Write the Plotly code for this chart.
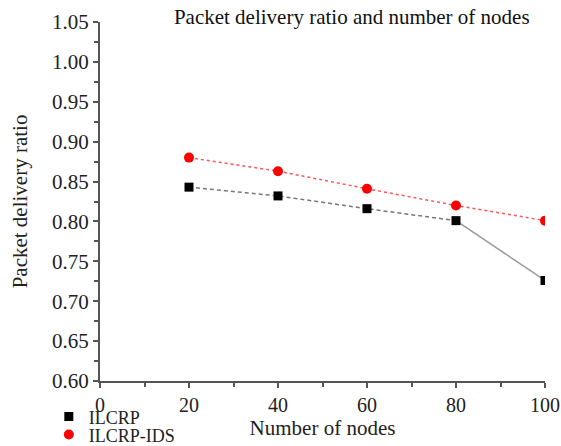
import plotly.graph_objects as go

nodes = [20, 40, 60, 80, 100]
ilcrp = [0.843, 0.832, 0.816, 0.801, 0.726]
ilcrp_ids = [0.880, 0.863, 0.841, 0.820, 0.801]
y_ticks = [0.60, 0.65, 0.70, 0.75, 0.80, 0.85, 0.90, 0.95, 1.00, 1.05]
x_ticks = [0, 20, 40, 60, 80, 100]

font = "Liberation Serif, Times New Roman, serif"

fig = go.Figure()
# ILCRP dashed segment (20-80) and solid segment (80-100)
fig.add_trace(go.Scatter(x=nodes[:4], y=ilcrp[:4], mode="lines",
                         line=dict(color="#777777", width=1.5, dash="4px,3px"),
                         showlegend=False, hoverinfo="skip"))
fig.add_trace(go.Scatter(x=nodes[3:], y=ilcrp[3:], mode="lines",
                         line=dict(color="#999999", width=1.5),
                         showlegend=False, hoverinfo="skip"))
fig.add_trace(go.Scatter(x=nodes, y=ilcrp_ids, mode="lines",
                         line=dict(color="#ff5555", width=1.5, dash="dot"),
                         showlegend=False, hoverinfo="skip"))
fig.add_trace(go.Scatter(x=nodes, y=ilcrp, mode="markers", name="ILCRP",
                         legend="legend",
                         marker=dict(symbol="square", color="black", size=9)))
fig.add_trace(go.Scatter(x=nodes, y=ilcrp_ids, mode="markers", name="ILCRP-IDS",
                         legend="legend2",
                         marker=dict(symbol="circle", color="red", size=10)))

leg_common = dict(xanchor="left", yanchor="middle", bgcolor="rgba(0,0,0,0)",
                  font=dict(family=font, size=18), itemwidth=30)

fig.update_layout(
    width=561, height=446,
    margin=dict(l=100, r=16, t=22, b=65, autoexpand=False),
    paper_bgcolor="white", plot_bgcolor="white",
    font=dict(family=font, size=21, color="#222222"),
    title=dict(text="Packet delivery ratio and number of nodes",
               x=0.627, xanchor="center", y=0.962, yanchor="middle",
               font=dict(family=font, size=21, color="#111111")),
    xaxis=dict(range=[0, 100], tickvals=x_ticks, showgrid=False, zeroline=False,
               showline=True, linecolor="#555555", linewidth=2,
               ticks="outside", ticklen=5, tickwidth=1.5, tickcolor="#555555",
               minor=dict(ticks="outside", ticklen=4, dtick=10, tickcolor="#555555", tickwidth=1.5),
               title=dict(text="Number of nodes", standoff=0, font=dict(family=font, size=21)),
               tickfont=dict(family=font, size=20)),
    yaxis=dict(range=[0.6, 1.05], tickvals=y_ticks, ticktext=[f"{v:.2f}" for v in y_ticks],
               showgrid=False, zeroline=False,
               showline=True, linecolor="#555555", linewidth=2,
               ticks="outside", ticklen=5, tickwidth=1.5, tickcolor="#555555",
               minor=dict(ticks="outside", ticklen=4, dtick=0.025, tickcolor="#555555", tickwidth=1.5),
               title=dict(text="Packet delivery ratio", standoff=19, font=dict(family=font, size=21)),
               tickfont=dict(family=font, size=21)),
    legend=dict(x=-0.115, y=-0.10, **leg_common),
    legend2=dict(x=-0.115, y=-0.15, **leg_common),
)

fig.write_html("out.html", config={"displayModeBar": False},
               post_script="document.body.style.margin='0';")
